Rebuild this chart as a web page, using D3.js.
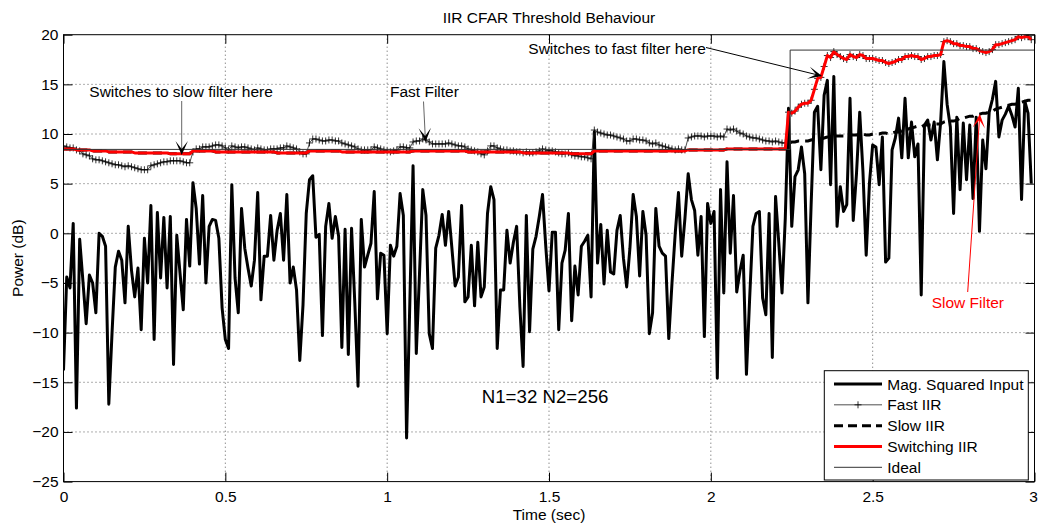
<!DOCTYPE html>
<head>
  <meta charset="utf-8">
  <script src="https://d3js.org/d3.v7.min.js"></script>
  <style>
  body { margin: 0; background: #fff; }
  svg text { font-family: "Liberation Sans", Arial, Helvetica, sans-serif; }
  path.line { fill: none; }
</style>
</head>
<body>
<svg width="1038" height="528"></svg>

<script type="text/javascript">
// sample spacing of all the filter series (seconds)
var dt = 0.01;

// magnitude squared input, dB
var inputDb = [
  -13.8, -4.4, -5.5, 1.0, -17.6, -0.6, -4.8, -9.1, -4.2, -5.0,
  -8.0, 0.0, -0.3, -1.3, -17.2, -10.0, -3.4, -1.8, -2.7, -7.0,
  0.7, -3.7, -6.4, -3.5, -9.7, -0.5, -5.0, 2.8, -10.7, 2.1,
  -4.5, 1.6, -5.5, 1.7, -13.2, -0.2, -4.0, -7.7, 1.4, -3.3,
  5.1, 2.5, -3.1, 3.8, -5.0, 0.7, 1.4, 1.3, -0.5, -7.5,
  -10.7, -11.6, 4.9, -4.5, -8.0, 2.5, -1.5, -3.5, -5.3, -2.7,
  4.1, -6.7, -2.3, -2.3, 1.8, -2.7, 0.3, 2.0, -2.7, 3.9,
  -5.0, -3.4, -5.7, -12.8, -7.2, 2.0, 5.4, 5.8, -0.4, -0.1,
  -10.3, 0.7, 3.0, -0.5, 1.7, -0.3, -11.5, 0.4, -12.2, 0.5,
  -7.0, -15.4, 1.4, -3.4, -2.2, -1.0, 4.2, -6.6, -2.0, -2.2,
  -10.1, -1.2, -2.3, -1.3, 4.0, 1.8, -20.6, -7.0, 6.8, -12.1,
  -4.0, 4.4, 1.8, -10.1, -11.6, -1.5, -0.2, 1.9, -1.2, 2.2,
  -1.5, -5.3, -4.4, 2.8, -6.9, -6.4, -1.2, -7.3, -0.9, -6.4,
  -5.4, 2.0, 4.7, 3.4, -11.6, -5.7, -5.7, 0.3, -3.0, -0.9,
  0.7, -7.4, -13.4, 1.8, -9.9, -1.6, -0.3, 1.7, 3.9, -1.3,
  -5.8, 0.1, 0.1, -9.7, -3.0, -1.7, 2.0, -8.8, -3.3, -6.2,
  -1.3, -0.8, -0.2, -6.4, 10.2, -3.0, 0.9, -5.1, 0.3, -3.9,
  -4.1, 0.3, 1.8, -2.5, -5.4, -1.5, 3.9, 1.7, -4.3, 2.2,
  -0.2, -10.1, -8.0, 2.5, -1.3, -2.0, -2.3, -10.6, -5.0, 0.0,
  4.1, -2.3, 1.5, 6.0, 3.4, 2.3, -2.2, 1.7, -10.4, 3.0,
  1.0, 2.2, -14.6, 4.4, -6.0, 7.2, -2.0, 3.8, -5.9, -3.8,
  -2.2, -14.2, -6.5, 0.7, 2.0, 2.2, -6.5, -8.2, 2.0, -12.5,
  3.7, -1.0, -6.0, 1.5, 12.6, 0.7, 5.7, 6.4, 8.7, 6.0,
  -7.0, 3.0, 12.2, 12.8, 6.4, 13.9, 15.4, 4.9, 15.8, 0.7,
  4.7, 2.2, 2.9, 13.6, 1.3, 6.0, 12.2, 6.2, -2.2, 5.0,
  8.9, 8.7, 4.9, 9.7, -2.9, -2.5, 8.4, 9.6, 11.6, 7.6,
  13.6, 7.6, 11.2, 7.7, 9.0, -6.2, 10.9, 11.4, 9.4, 11.2,
  7.4, 11.2, 17.3, 13.0, 10.7, 2.0, 11.7, 4.4, 11.1, 5.4,
  10.9, 3.5, 11.7, 0.2, 9.4, 6.5, 12.2, 13.5, 15.3, 9.7,
  11.4, 12.0, 12.8, 11.9, 10.7, 14.6, 3.4, 13.3, 12.1, 5.0
];

// fast IIR threshold, dB
var fastIIR = [
  8.8, 8.7, 8.6, 8.6, 8.4, 8.3, 8.0, 7.9, 7.8, 7.5,
  7.4, 7.4, 7.3, 7.2, 7.1, 7.0, 6.9, 6.9, 6.8, 6.7,
  6.8, 6.7, 6.6, 6.5, 6.4, 6.4, 6.4, 6.8, 6.9, 7.0,
  7.1, 7.2, 7.2, 7.3, 7.3, 7.3, 7.3, 7.2, 7.1, 7.1,
  8.2, 8.5, 8.5, 8.7, 8.7, 8.7, 8.8, 8.9, 8.9, 8.8,
  8.6, 8.4, 8.8, 8.7, 8.6, 8.7, 8.7, 8.6, 8.5, 8.4,
  8.6, 8.5, 8.4, 8.4, 8.5, 8.5, 8.5, 8.6, 8.6, 8.8,
  8.7, 8.6, 8.5, 8.2, 8.0, 8.0, 9.1, 9.5, 9.5, 9.4,
  9.3, 9.3, 9.4, 9.4, 9.3, 9.3, 9.1, 9.0, 8.9, 8.8,
  8.7, 8.5, 8.4, 8.4, 8.4, 8.4, 8.7, 8.6, 8.5, 8.4,
  8.3, 8.2, 8.3, 8.4, 8.7, 8.7, 8.6, 8.6, 9.2, 9.3,
  9.3, 9.5, 9.4, 9.2, 9.0, 9.0, 9.0, 9.0, 9.0, 9.1,
  9.0, 8.9, 8.8, 8.8, 8.7, 8.5, 8.4, 8.3, 8.2, 8.0,
  7.9, 8.3, 8.8, 8.8, 8.6, 8.5, 8.4, 8.4, 8.3, 8.3,
  8.2, 8.2, 8.1, 8.2, 8.1, 8.1, 8.2, 8.3, 8.5, 8.4,
  8.3, 8.3, 8.2, 8.1, 8.0, 8.0, 8.1, 7.9, 7.8, 7.8,
  7.7, 7.7, 7.6, 7.5, 10.4, 10.2, 10.1, 10.0, 9.9, 9.9,
  9.8, 9.7, 9.6, 9.5, 9.3, 9.3, 9.5, 9.5, 9.4, 9.4,
  9.3, 9.1, 9.0, 9.1, 8.9, 8.8, 8.7, 8.6, 8.5, 8.4,
  8.5, 8.4, 8.4, 9.6, 9.7, 9.8, 9.8, 9.8, 9.7, 9.8,
  9.8, 9.8, 9.7, 9.8, 9.7, 10.5, 10.4, 10.5, 10.3, 10.1,
  10.0, 9.8, 9.7, 9.6, 9.6, 9.5, 9.4, 9.3, 9.3, 9.2,
  9.3, 9.2, 9.1, 9.1, 12.2, 12.1, 12.3, 12.7, 13.0, 13.1,
  13.1, 13.4, 14.5, 15.6, 15.7, 16.8, 17.9, 17.7, 18.3, 18.0,
  17.8, 17.6, 17.5, 18.0, 17.8, 17.7, 18.0, 17.9, 17.6, 17.6,
  17.6, 17.5, 17.4, 17.4, 17.2, 17.1, 17.2, 17.3, 17.5, 17.5,
  17.8, 17.8, 17.9, 17.8, 17.8, 17.5, 17.6, 17.8, 17.8, 17.9,
  17.9, 18.0, 19.3, 19.4, 19.3, 19.1, 19.1, 18.9, 18.9, 18.8,
  18.8, 18.6, 18.6, 18.4, 18.3, 18.2, 18.3, 18.5, 19.0, 19.0,
  19.1, 19.2, 19.3, 19.4, 19.5, 19.8, 19.7, 19.8, 19.8, 19.5
];

// slow IIR threshold, dB (hidden under the red line until the step)
var slowIIR = [
  8.5, 8.5, 8.5, 8.5, 8.4, 8.4, 8.4, 8.4, 8.4, 8.3,
  8.3, 8.3, 8.3, 8.3, 8.2, 8.2, 8.2, 8.2, 8.2, 8.2,
  8.2, 8.2, 8.1, 8.1, 8.1, 8.1, 8.1, 8.1, 8.1, 8.1,
  8.1, 8.1, 8.1, 8.0, 8.0, 8.0, 8.0, 8.0, 8.0, 8.0,
  8.3, 8.3, 8.3, 8.3, 8.3, 8.3, 8.3, 8.2, 8.2, 8.2,
  8.2, 8.2, 8.2, 8.2, 8.2, 8.2, 8.2, 8.2, 8.2, 8.2,
  8.2, 8.2, 8.2, 8.2, 8.2, 8.2, 8.1, 8.1, 8.1, 8.1,
  8.1, 8.1, 8.1, 8.1, 8.1, 8.1, 8.3, 8.3, 8.3, 8.3,
  8.3, 8.3, 8.3, 8.3, 8.3, 8.3, 8.2, 8.2, 8.2, 8.2,
  8.2, 8.2, 8.2, 8.2, 8.2, 8.2, 8.2, 8.2, 8.2, 8.2,
  8.2, 8.2, 8.2, 8.2, 8.2, 8.2, 8.2, 8.2, 8.3, 8.3,
  8.3, 8.3, 8.3, 8.3, 8.3, 8.3, 8.3, 8.3, 8.3, 8.3,
  8.3, 8.3, 8.3, 8.3, 8.3, 8.2, 8.2, 8.2, 8.2, 8.2,
  8.2, 8.2, 8.2, 8.2, 8.2, 8.2, 8.2, 8.2, 8.2, 8.2,
  8.2, 8.2, 8.1, 8.1, 8.1, 8.1, 8.1, 8.1, 8.1, 8.1,
  8.1, 8.1, 8.1, 8.1, 8.1, 8.1, 8.1, 8.0, 8.0, 8.0,
  8.0, 8.0, 8.0, 8.0, 8.3, 8.3, 8.3, 8.3, 8.3, 8.3,
  8.3, 8.3, 8.3, 8.3, 8.3, 8.3, 8.3, 8.3, 8.3, 8.3,
  8.3, 8.3, 8.3, 8.3, 8.3, 8.3, 8.3, 8.3, 8.3, 8.3,
  8.3, 8.3, 8.3, 8.4, 8.4, 8.4, 8.4, 8.4, 8.4, 8.4,
  8.4, 8.4, 8.4, 8.4, 8.4, 8.5, 8.5, 8.5, 8.5, 8.5,
  8.5, 8.5, 8.5, 8.5, 8.5, 8.5, 8.5, 8.5, 8.5, 8.5,
  8.5, 8.5, 8.5, 8.5, 9.0, 9.2, 9.2, 9.3, 9.3, 9.3,
  9.3, 9.4, 9.5, 9.5, 9.5, 9.6, 9.7, 9.7, 9.8, 9.8,
  9.8, 9.8, 9.8, 9.9, 9.9, 9.9, 10.0, 10.0, 9.9, 9.9,
  10.0, 10.0, 10.0, 10.1, 10.1, 10.0, 10.1, 10.2, 10.2, 10.3,
  10.4, 10.5, 10.6, 10.7, 10.8, 10.7, 10.9, 10.9, 10.9, 11.0,
  11.0, 11.0, 11.2, 11.3, 11.3, 11.3, 11.4, 11.6, 11.6, 11.7,
  11.8, 11.8, 12.0, 12.0, 12.1, 12.1, 12.2, 12.3, 12.5, 12.6,
  12.7, 12.8, 12.9, 13.0, 13.0, 13.2, 13.2, 13.3, 13.4, 13.4
];

// sample index where the switching filter goes over to the fast one
var switchIndex = 224;

// ideal threshold (step)
var idealTime = [0, 2.245, 2.245, 3];
var idealDb = [8.45, 8.45, 18.45, 18.45];

// axes
var xTicks = [0, 0.5, 1, 1.5, 2, 2.5, 3];
var yTicks = [-25, -20, -15, -10, -5, 0, 5, 10, 15, 20];

var legendNames = ["Mag. Squared Input", "Fast IIR", "Slow IIR", "Switching IIR", "Ideal"];

// switching IIR = slow part, then the fast filter after the switch
var switchingIIR = slowIIR.slice(0, switchIndex).concat(fastIIR.slice(switchIndex));

// plot box (window.top is read-only, so no "top" here)
var boxL = 63.5, boxR = 1034.5, boxT = 34.7, boxB = 481.6;
var fontSize = 15.5;

var svg = d3.select("svg");

var x = d3.scaleLinear().domain([0, 3]).range([boxL, boxR]);
var y = d3.scaleLinear().domain([-25, 20]).range([boxB, boxT]);

function tX(d, i) { return x(i * dt); }

// grid (dotted)
svg.append("g").selectAll("line")
  .data(xTicks.slice(1, -1)).enter().append("line")
    .attr("x1", d => x(d)).attr("x2", d => x(d))
    .attr("y1", boxT).attr("y2", boxB)
    .attr("stroke", "#333").attr("stroke-width", 0.8)
    .attr("stroke-dasharray", "1,3");
svg.append("g").selectAll("line")
  .data(yTicks.slice(1, -1)).enter().append("line")
    .attr("x1", boxL).attr("x2", boxR)
    .attr("y1", d => y(d)).attr("y2", d => y(d))
    .attr("stroke", "#333").attr("stroke-width", 0.8)
    .attr("stroke-dasharray", "1,3");

// clip everything to the plot box
svg.append("clipPath").attr("id", "plotClip")
  .append("rect").attr("x", boxL).attr("y", boxT)
  .attr("width", boxR - boxL).attr("height", boxB - boxT);

var plot = svg.append("g").attr("clip-path", "url(#plotClip)");

var line = d3.line().x(tX).y(d => y(d));

// input
plot.append("path").attr("class", "line")
  .attr("d", line(inputDb))
  .attr("stroke", "#000").attr("stroke-width", 3)
  .attr("stroke-linejoin", "round");

// fast IIR, thin with + markers
plot.append("path").attr("class", "line")
  .attr("d", line(fastIIR))
  .attr("stroke", "#222").attr("stroke-width", 0.8);
plot.append("path").attr("class", "line")
  .attr("d", fastIIR.map(function (d, i) {
    var px = tX(d, i), py = y(d);
    return "M" + (px - 3.5) + "," + py + "H" + (px + 3.5) +
           "M" + px + "," + (py - 3.5) + "V" + (py + 3.5);
  }).join(""))
  .attr("stroke", "#000").attr("stroke-width", 0.8);

// slow IIR, dashed
plot.append("path").attr("class", "line")
  .attr("d", line(slowIIR))
  .attr("stroke", "#000").attr("stroke-width", 3)
  .attr("stroke-dasharray", "9,6");

// switching IIR
plot.append("path").attr("class", "line")
  .attr("d", line(switchingIIR))
  .attr("stroke", "#ff0000").attr("stroke-width", 3)
  .attr("stroke-linejoin", "round");

// ideal
plot.append("path").attr("class", "line")
  .attr("d", d3.line().x((d, i) => x(idealTime[i])).y(d => y(d))(idealDb))
  .attr("stroke", "#333").attr("stroke-width", 1);

// axes: ticks point inwards, box on
function styleAxis(g) {
  g.select(".domain").remove();
  g.selectAll("line").attr("stroke", "#000");
  g.selectAll("text").attr("font-size", fontSize)
    .attr("font-family", '"Liberation Sans", Arial, sans-serif').attr("fill", "#000");
}
var fmt = d3.format("");

var xAxisG = svg.append("g").attr("transform", "translate(0," + boxB + ")")
  .call(d3.axisBottom(x).tickValues(xTicks).tickFormat(fmt)
    .tickSizeInner(-9).tickSizeOuter(0).tickPadding(9))
  .call(styleAxis);
// keep the last label inside the page
xAxisG.selectAll(".tick text").filter(d => d === 3).attr("dx", -1.5);

svg.append("g").attr("transform", "translate(0," + boxT + ")")
  .call(d3.axisTop(x).tickValues(xTicks).tickFormat("")
    .tickSizeInner(-9).tickSizeOuter(0))
  .call(styleAxis);
svg.append("g").attr("transform", "translate(" + boxL + ",0)")
  .call(d3.axisLeft(y).tickValues(yTicks).tickFormat(fmt)
    .tickSizeInner(-9).tickSizeOuter(0).tickPadding(5))
  .call(styleAxis);
svg.append("g").attr("transform", "translate(" + boxR + ",0)")
  .call(d3.axisRight(y).tickValues(yTicks).tickFormat("")
    .tickSizeInner(-9).tickSizeOuter(0))
  .call(styleAxis);

svg.append("rect")
  .attr("x", boxL).attr("y", boxT)
  .attr("width", boxR - boxL).attr("height", boxB - boxT)
  .attr("fill", "none").attr("stroke", "#000").attr("stroke-width", 1);

// titles
svg.append("text").attr("x", (boxL + boxR) / 2).attr("y", 22.5)
  .attr("text-anchor", "middle").attr("font-size", fontSize)
  .text("IIR CFAR Threshold Behaviour");
svg.append("text").attr("x", (boxL + boxR) / 2).attr("y", 519.5)
  .attr("text-anchor", "middle").attr("font-size", fontSize)
  .text("Time (sec)");
svg.append("text")
  .attr("transform", "translate(22.5," + ((boxT + boxB) / 2) + ") rotate(-90)")
  .attr("text-anchor", "middle").attr("font-size", fontSize)
  .text("Power (dB)");

// annotations
function arrow(x1, y1, x2, y2, shaft, head) {
  var dx = x2 - x1, dy = y2 - y1, len = Math.sqrt(dx * dx + dy * dy);
  var ux = dx / len, uy = dy / len;
  var L = 14, W = 6.2, N = 6;
  var bx = x2 - ux * L, by = y2 - uy * L;
  svg.append("line")
    .attr("x1", x1).attr("y1", y1).attr("x2", x2 - ux * N).attr("y2", y2 - uy * N)
    .attr("stroke", shaft).attr("stroke-width", 1);
  var pts = [[x2, y2], [bx - uy * W, by + ux * W], [x2 - ux * N, y2 - uy * N], [bx + uy * W, by - ux * W]];
  svg.append("path").attr("d", "M" + pts.join("L") + "Z").attr("fill", head);
}

function note(tx, ty, str, color, size) {
  svg.append("text").attr("x", tx).attr("y", ty)
    .attr("font-size", size || fontSize).attr("fill", color || "#000")
    .text(str);
}

note(89.3, 97, "Switches to slow filter here");
arrow(181.7, 101, 181.7, 155, "#666", "#000");

note(390, 97.3, "Fast Filter");
arrow(423.5, 101.5, 425.5, 142, "#666", "#000");

note(528.3, 54, "Switches to fast filter here");
arrow(706, 47.5, 822, 76, "#000", "#000");

note(931.7, 307.7, "Slow Filter", "#ff0000");
arrow(967.7, 292, 979.8, 114, "#ff0000", "#ff0000");

note(481.7, 403.3, "N1=32 N2=256", "#000", 18.7);

// legend
var lg = svg.append("g");
lg.append("rect").attr("x", 824.3).attr("y", 370.7)
  .attr("width", 204).attr("height", 109.3)
  .attr("fill", "#fff").attr("stroke", "#000").attr("stroke-width", 1);

var rowY = d3.scalePoint().domain(legendNames).range([384, 467.3]);
var lx1 = 834, lx2 = 882;

legendNames.forEach(function (name) {
  var ry = rowY(name);
  var l = lg.append("line").attr("x1", lx1).attr("x2", lx2).attr("y1", ry).attr("y2", ry);
  if (name === "Mag. Squared Input") l.attr("stroke", "#000").attr("stroke-width", 3);
  if (name === "Fast IIR") {
    l.attr("stroke", "#222").attr("stroke-width", 0.8);
    var mx = (lx1 + lx2) / 2;
    lg.append("path").attr("d", "M" + (mx - 3.5) + "," + ry + "H" + (mx + 3.5) + "M" + mx + "," + (ry - 3.5) + "V" + (ry + 3.5))
      .attr("stroke", "#000").attr("stroke-width", 0.8);
  }
  if (name === "Slow IIR") l.attr("stroke", "#000").attr("stroke-width", 3).attr("stroke-dasharray", "9,5");
  if (name === "Switching IIR") l.attr("stroke", "#ff0000").attr("stroke-width", 3);
  if (name === "Ideal") l.attr("stroke", "#333").attr("stroke-width", 1);
  lg.append("text").attr("x", 887.3).attr("y", ry).attr("dy", "0.36em")
    .attr("font-size", fontSize).text(name);
});
</script>

</body>
</html>
